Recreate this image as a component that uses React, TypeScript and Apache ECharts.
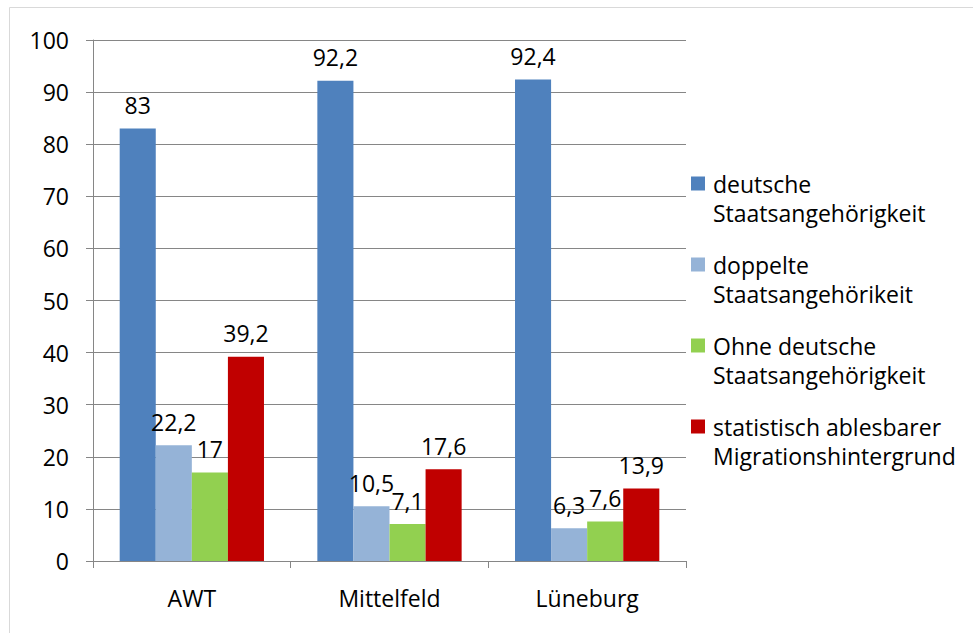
import React, { useEffect, useRef } from "react";
import * as echarts from "echarts";

const categories = ["AWT", "Mittelfeld", "Lüneburg"];
const seriesNames = [
  "deutsche\nStaatsangehörigkeit",
  "doppelte\nStaatsangehörikeit",
  "Ohne deutsche\nStaatsangehörigkeit",
  "statistisch ablesbarer\nMigrationshintergrund",
];
const deutsche = [83, 92.2, 92.4];
const doppelte = [22.2, 10.5, 6.3];
const ohne = [17, 7.1, 7.6];
const migration = [39.2, 17.6, 13.9];
const colors = ["#4F81BD", "#95B3D7", "#92D050", "#C00000"];
const FONT = "'Open Sans', 'Noto Sans', sans-serif";
const FS = 23;

export default function App() {
  const ref = useRef<HTMLDivElement>(null);
  useEffect(() => {
    const chart = echarts.init(ref.current!, null, { renderer: "svg" });
    const values = [deutsche, doppelte, ohne, migration];
    chart.setOption({
      animation: false,
      backgroundColor: "#fff",
      textStyle: { fontFamily: FONT },
      graphic: [
        {
          type: "rect",
          shape: { x: 9.5, y: 7.5, width: 1000, height: 1000 },
          style: { fill: "none", stroke: "#D9D9D9", lineWidth: 1 },
          silent: true,
        },
      ],
      grid: { left: 93, right: 287, top: 40, bottom: 72 },
      legend: {
        orient: "vertical",
        left: 691,
        top: 169,
        padding: 0,
        itemWidth: 14,
        itemHeight: 58,
        itemGap: 23,
        icon: "path://M0,0 M0,58 M0,7.5 L14,7.5 L14,21.5 L0,21.5 Z",
        textStyle: { fontSize: FS, color: "#000", lineHeight: 29, fontFamily: FONT, padding: [0, 0, 0, 3] },
        data: seriesNames,
      },
      xAxis: {
        type: "category",
        data: categories,
        axisLine: { lineStyle: { color: "#868686" } },
        axisTick: { show: true, length: 7, lineStyle: { color: "#868686" } },
        axisLabel: { fontSize: FS, color: "#000", margin: 25, fontFamily: FONT },
      },
      yAxis: {
        type: "value",
        min: 0,
        max: 100,
        interval: 10,
        axisLine: { show: true, lineStyle: { color: "#868686" } },
        axisTick: { show: true, length: 7, lineStyle: { color: "#868686" } },
        splitLine: { lineStyle: { color: "#868686" } },
        axisLabel: { fontSize: FS, color: "#000", margin: 24, fontFamily: FONT },
      },
      series: seriesNames.map((name, i) => ({
        name,
        type: "bar",
        data: values[i],
        barGap: "0%",
        barCategoryGap: "27%",
        itemStyle: { color: colors[i] },
        label: {
          show: true,
          position: "top",
          distance: 12,
          fontSize: FS,
          color: "#000",
          fontFamily: FONT,
          formatter: (p: any) => String(p.value).replace(".", ","),
        },
      })),
    });
    return () => chart.dispose();
  }, []);
  return <div ref={ref} style={{ width: 973, height: 633, position: "absolute", left: 0, top: 0 }} />;
}
